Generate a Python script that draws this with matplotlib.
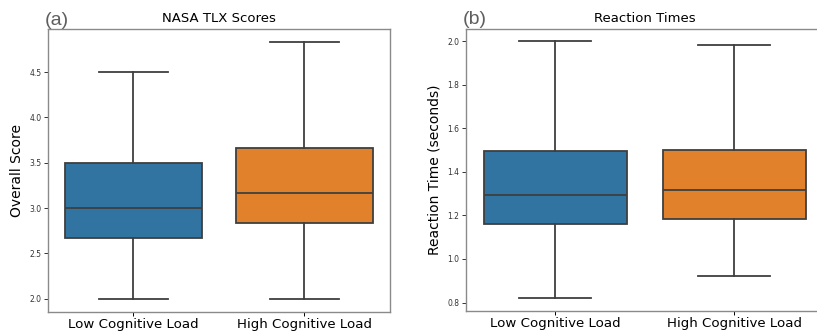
import matplotlib
matplotlib.use("Agg")
import matplotlib.pyplot as plt

categories = ["Low Cognitive Load", "High Cognitive Load"]
colors = ["#3274a1", "#e1812c"]

# NASA TLX box stats: lower whisker, q1, median, q3, upper whisker
tlx_whislo = [2.0, 2.0]
tlx_q1 = [2.667, 2.833]
tlx_med = [3.0, 3.167]
tlx_q3 = [3.5, 3.667]
tlx_whishi = [4.5, 4.833]

# Reaction time box stats
rt_whislo = [0.82, 0.921]
rt_q1 = [1.16, 1.184]
rt_med = [1.296, 1.319]
rt_q3 = [1.495, 1.502]
rt_whishi = [2.0, 1.983]

W, H = 817, 332
fig = plt.figure(figsize=(W / 100, H / 100), dpi=100)

line_col = "#3f3f3f"
spine_col = "#8a8a8a"


def make_stats(lo, q1, med, q3, hi):
    return [dict(whislo=a, q1=b, med=c, q3=d, whishi=e, fliers=[], label=lab)
            for a, b, c, d, e, lab in zip(lo, q1, med, q3, hi, categories)]


def draw(ax, stats, title, ylabel, panel):
    bp = ax.bxp(stats, positions=range(len(stats)), widths=0.8, patch_artist=True,
                showfliers=False,
                boxprops=dict(edgecolor=line_col, linewidth=1.3),
                medianprops=dict(color=line_col, linewidth=1.3),
                whiskerprops=dict(color=line_col, linewidth=1.3),
                capprops=dict(color=line_col, linewidth=1.3),
                capwidths=0.4)
    for patch, c in zip(bp["boxes"], colors):
        patch.set_facecolor(c)
    ax.set_xlim(-0.5, 1.5)
    ax.set_title(title, fontsize=9.5, pad=5)
    ax.set_ylabel(ylabel, fontsize=10)
    ax.tick_params(axis="y", labelsize=5.5, length=3, width=0.7, pad=1.5, colors="#333333")
    ax.tick_params(axis="x", labelsize=9.6, length=3, width=0.7, pad=1.5)
    for s in ax.spines.values():
        s.set_color(spine_col)
        s.set_linewidth(1.0)
    ax.text(-0.008, 1.0, panel, transform=ax.transAxes, fontsize=14,
            color="#5f5f5f", family="Liberation Sans", ha="left", va="bottom")


ax1 = fig.add_axes([47.7 / W, 20.5 / H, 342.3 / W, 282.5 / H])
draw(ax1, make_stats(tlx_whislo, tlx_q1, tlx_med, tlx_q3, tlx_whishi),
     "NASA TLX Scores", "Overall Score", "(a)")
ax1.set_yticks([2.0, 2.5, 3.0, 3.5, 4.0, 4.5])

ax2 = fig.add_axes([465.7 / W, 21 / H, 358 / W, 282.5 / H])
draw(ax2, make_stats(rt_whislo, rt_q1, rt_med, rt_q3, rt_whishi),
     "Reaction Times", "Reaction Time (seconds)", "(b)")
ax2.set_yticks([0.8, 1.0, 1.2, 1.4, 1.6, 1.8, 2.0])

fig.savefig("out.png", dpi=100)
